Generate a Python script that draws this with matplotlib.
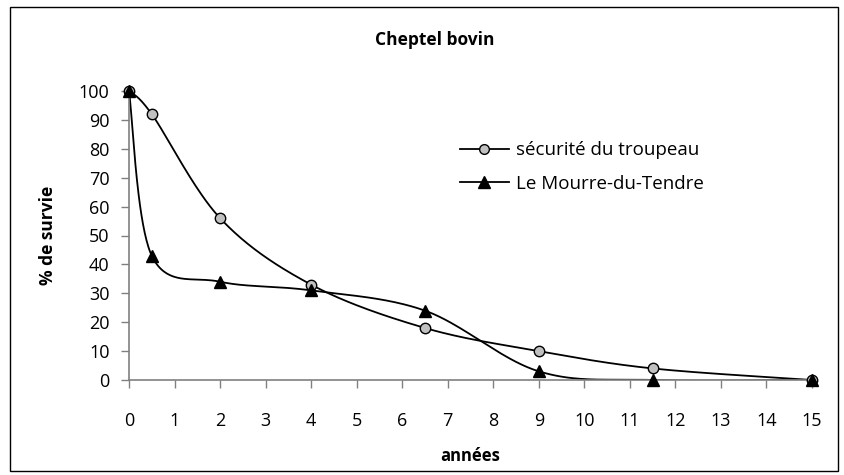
import numpy as np
import matplotlib
matplotlib.use("Agg")
import matplotlib.pyplot as plt
from matplotlib.patches import Rectangle

plt.rcParams['font.family'] = ['Open Sans', 'DejaVu Sans']

annees_securite = [0, 0.5, 2, 4, 6.5, 9, 11.5, 15]
survie_securite = [100, 92, 56, 33, 18, 10, 4, 0]
annees_mourre = [0, 0.5, 2, 4, 6.5, 9, 11.5, 15]
survie_mourre = [100, 43, 34, 31, 24, 3, 0, 0]
x_ticks = list(range(0, 16))
y_ticks = list(range(0, 101, 10))


def smooth(xs, ys, n=40):
    # Excel-like smoothed line: cubic Bezier with Catmull-Rom control points
    p = np.column_stack([xs, ys]).astype(float)
    pts = []
    for i in range(len(p) - 1):
        p0 = p[i - 1] if i > 0 else p[i]
        p1, p2 = p[i], p[i + 1]
        p3 = p[i + 2] if i + 2 < len(p) else p[i + 1]
        c1 = p1 + (p2 - p0) / 6
        c2 = p2 - (p3 - p1) / 6
        t = np.linspace(0, 1, n)[:, None]
        seg = ((1 - t) ** 3) * p1 + 3 * ((1 - t) ** 2) * t * c1 + 3 * (1 - t) * t ** 2 * c2 + t ** 3 * p2
        pts.append(seg if i == 0 else seg[1:])
    pts = np.vstack(pts)
    return pts[:, 0], pts[:, 1]


fig = plt.figure(figsize=(8.45, 4.75), dpi=100)
ax = fig.add_axes([129 / 845, 1 - 380 / 475, (812 - 129) / 845, (380 - 91) / 475])

fig.patches.append(Rectangle((10 / 845, 4 / 475), 828 / 845, 464 / 475, transform=fig.transFigure,
                             fill=False, edgecolor='black', linewidth=1))

sx, sy = smooth(annees_securite, survie_securite)
ax.plot(sx, sy, color='black', linewidth=1.3, zorder=2)
mx, my = smooth(annees_mourre, survie_mourre)
ax.plot(mx, my, color='black', linewidth=1.3, zorder=2)

ax.plot(annees_securite, survie_securite, linestyle='none', marker='o', markersize=7.5,
        markerfacecolor='#c0c0c0', markeredgecolor='black', markeredgewidth=1, zorder=4, clip_on=False)
ax.plot(annees_mourre, survie_mourre, linestyle='none', marker='^', markersize=8.5,
        markerfacecolor='black', markeredgecolor='black', zorder=4, clip_on=False)

# legend handles
ax.plot([], [], color='black', linewidth=1.3, marker='o', markersize=7,
        markerfacecolor='#c0c0c0', markeredgecolor='black', label='sécurité du troupeau')
ax.plot([], [], color='black', linewidth=1.3, marker='^', markersize=8,
        markerfacecolor='black', label='Le Mourre-du-Tendre')
ax.legend(loc='upper left', bbox_to_anchor=(0.46, 0.885), frameon=False, fontsize=13.5,
          handlelength=2.6, handletextpad=0.4, labelspacing=0.85)

ax.set_xlim(0, 15)
ax.set_ylim(0, 100)
ax.set_xticks(x_ticks)
ax.set_yticks(y_ticks)
ax.tick_params(axis='both', labelsize=13, color='#808080', length=6, width=1)
ax.tick_params(axis='x', pad=17)
ax.tick_params(axis='y', pad=8)
for s in ['top', 'right']:
    ax.spines[s].set_visible(False)
for s in ['left', 'bottom']:
    ax.spines[s].set_color('#808080')
    ax.spines[s].set_linewidth(1.2)

fig.text(435 / 845, 1 - 40 / 475, 'Cheptel bovin', fontsize=12.5, fontweight='bold',
         ha='center', va='center')
ax.set_xlabel('années', fontsize=12, fontweight='bold', labelpad=12)
ax.set_ylabel('% de survie', fontsize=12.5, fontweight='bold', labelpad=16)

fig.savefig('out.png', dpi=100)
